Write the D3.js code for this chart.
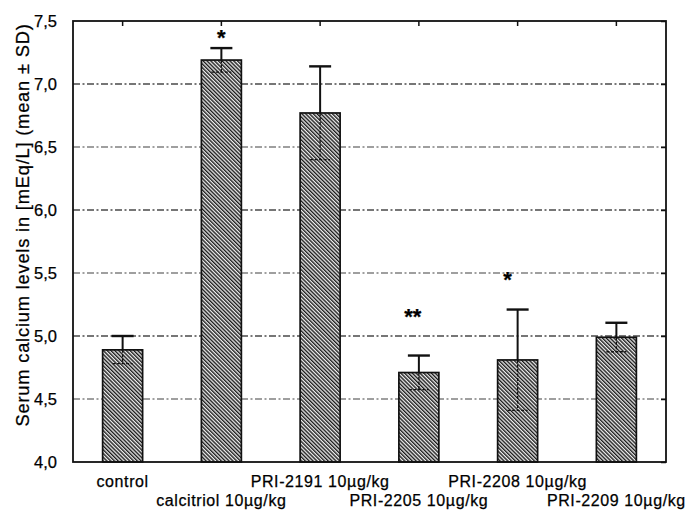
<!DOCTYPE html>
<html><head><meta charset="utf-8">
<script src="https://cdn.jsdelivr.net/npm/d3@7"></script>
<style>body{margin:0;background:#fff}svg{display:block}text{font-family:"Liberation Sans",Arial,sans-serif;fill:#000;stroke:#000;stroke-width:0.25px}</style>
</head><body><svg id="c" width="688" height="511"></svg>
<script>
const categories = ["control","calcitriol 10µg/kg","PRI-2191 10µg/kg","PRI-2205 10µg/kg","PRI-2208 10µg/kg","PRI-2209 10µg/kg"];
const means = [4.89, 7.19, 6.77, 4.71, 4.81, 4.99];
const sds = [0.11, 0.095, 0.37, 0.135, 0.40, 0.115];
const significance = ["", "*", "", "**", "*", ""];
const yTicks = [4.0, 4.5, 5.0, 5.5, 6.0, 6.5, 7.0, 7.5];
const yTitle = "Serum calcium levels in [mEq/L] (mean ± SD)";

const svg = d3.select("#c");
const L = 73, R = 666, T = 21, B = 462;
const x = d3.scaleBand().domain(categories).range([L, R]).paddingInner(0.595).paddingOuter(0.3);
const y = d3.scaleLinear().domain([4.0, 7.5]).range([B, T]);
const fmt = v => d3.format(".1f")(v).replace(".", ",");
const cx = c => x(c) + x.bandwidth() / 2;

const defs = svg.append("defs");
const pat = defs.append("pattern").attr("id","hatch").attr("patternUnits","userSpaceOnUse")
  .attr("width",2.7).attr("height",10).attr("patternTransform","rotate(-45)");
pat.append("rect").attr("width",2.7).attr("height",10).attr("fill","#eeeeee");
pat.append("line").attr("x1",0.7).attr("x2",0.7).attr("y1",0).attr("y2",10).attr("stroke","#151515").attr("stroke-width",1.35);

// gridlines
svg.append("g").selectAll("line").data(yTicks.filter(v => v > 4.0 && v < 7.5)).join("line")
  .attr("x1", L).attr("x2", R).attr("y1", d => y(d)).attr("y2", d => y(d))
  .attr("stroke", (d,i) => i % 2 ? "#4a4a4a" : "#808080").attr("stroke-width", 1.3)
  .attr("stroke-dasharray", "7,2.5,2,2.5");

// y axis labels via d3 axis
const yAxis = svg.append("g").attr("transform", `translate(${L},0)`)
  .call(d3.axisLeft(y).tickValues(yTicks).tickFormat(fmt).tickSize(0).tickPadding(16));
yAxis.select(".domain").remove();
yAxis.selectAll("text").style("font-size","16.5px").attr("fill","#000");

// right axis ticks inward
const rAxis = svg.append("g").attr("transform", `translate(${R},0)`)
  .call(d3.axisLeft(y).tickValues(yTicks).tickFormat("").tickSize(5));
rAxis.select(".domain").remove();
rAxis.selectAll(".tick line").attr("stroke","#111").attr("stroke-width",1.5).attr("x2", -5);

// top ticks
const tAxis = svg.append("g").attr("transform", `translate(0,${T})`)
  .call(d3.axisBottom(x).tickFormat("").tickSize(5));
tAxis.select(".domain").remove();
tAxis.selectAll("line").attr("stroke","#111").attr("stroke-width",1.5);

// bars
const gBars = svg.append("g");
categories.forEach((c, i) => {
  gBars.append("rect").attr("x", x(c)).attr("width", x.bandwidth())
    .attr("y", y(means[i])).attr("height", y(4.0) - y(means[i]))
    .attr("fill", "url(#hatch)").attr("stroke", "#111").attr("stroke-width", 1.7);
});

// error bars
const gErr = svg.append("g");
categories.forEach((c, i) => {
  const xc = cx(c), hw = 10;
  const yT = y(means[i] + sds[i]), yM = y(means[i]), yL = y(means[i] - sds[i]);
  gErr.append("line").attr("x1", xc).attr("x2", xc).attr("y1", yM).attr("y2", yT).attr("stroke","#111").attr("stroke-width",2);
  gErr.append("line").attr("x1", xc-hw-1).attr("x2", xc+hw+1).attr("y1", yT).attr("y2", yT).attr("stroke","#111").attr("stroke-width",2.4);
  gErr.append("line").attr("x1", xc).attr("x2", xc).attr("y1", yM).attr("y2", yL).attr("stroke","#111").attr("stroke-width",1.3).attr("stroke-dasharray","3,1.5");
  gErr.append("line").attr("x1", xc-hw).attr("x2", xc+hw).attr("y1", yL).attr("y2", yL).attr("stroke","#111").attr("stroke-width",1.3).attr("stroke-dasharray","3,1.5");
});

// significance stars
const starDx = [0, 0, 0, -6, -10, 0];
const starY = [0, 32.5, 0, 312, 275, 0];
categories.forEach((c, i) => {
  if (!significance[i]) return;
  svg.append("text").attr("x", cx(c) + starDx[i]).attr("y", starY[i] + 12)
    .attr("text-anchor","middle").style("font-size","22px").style("font-weight","bold")
    .text(significance[i]);
});

// frame
svg.append("rect").attr("x", L).attr("y", T).attr("width", R - L).attr("height", B - T)
  .attr("fill","none").attr("stroke","#111").attr("stroke-width",1.8);

// x labels staggered
svg.append("g").selectAll("text").data(categories).join("text")
  .attr("x", d => cx(d)).attr("y", (d,i) => i % 2 ? 506 : 487)
  .attr("text-anchor","middle").style("font-size","16px").style("letter-spacing","0.6px")
  .text(d => d);

// y title
svg.append("text").attr("transform", `translate(29,225) rotate(-90)`)
  .attr("text-anchor","middle").style("font-size","18.3px").style("letter-spacing","0.8px").text(yTitle);
</script></body></html>
